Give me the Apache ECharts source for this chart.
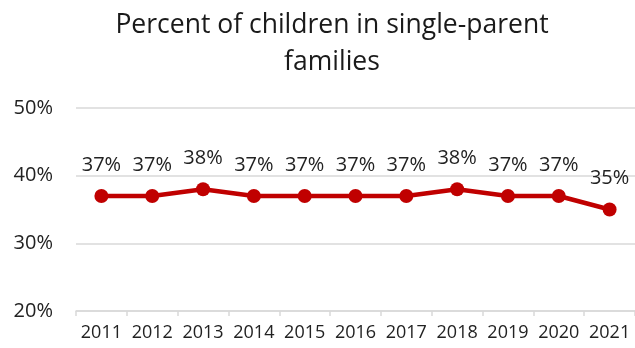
<!DOCTYPE html>
<html><head><meta charset="utf-8">
<script src="https://cdn.jsdelivr.net/npm/echarts@6/dist/echarts.min.js"></script>
<style>html,body{margin:0;padding:0;background:#fff}#c{width:635px;height:348px}</style>
</head><body><div id="c"></div>
<script>
const years = ['2011','2012','2013','2014','2015','2016','2017','2018','2019','2020','2021'];
const percent = [37,37,38,37,37,37,37,38,37,37,35];
const yTicks = [20,30,40,50];

const chart = echarts.init(document.getElementById('c'));
const font = '"Open Sans", "Noto Sans", sans-serif';
chart.setOption({
  animation: false,
  title: {
    text: 'Percent of children in single-parent\nfamilies',
    left: 327, top: 2, textAlign: 'center',
    textStyle: {fontFamily: font, fontSize: 26.5, fontWeight: 'normal', color: '#1a1a1a', lineHeight: 37}
  },
  grid: {left: 76, right: -2, top: 108, bottom: 37},
  xAxis: {
    type: 'category', data: years, boundaryGap: true,
    axisLine: {lineStyle: {color: '#d9d9d9', width: 1.5}},
    axisTick: {show: true, length: 5, interval: 0, lineStyle: {color: '#d9d9d9', width: 1.5}},
    axisLabel: {fontFamily: font, fontSize: 18, color: '#222', margin: 13, interval: 0}
  },
  yAxis: {
    type: 'value', min: yTicks[0], max: yTicks[yTicks.length-1], interval: 10,
    axisLine: {show: false}, axisTick: {show: false},
    splitLine: {lineStyle: {color: '#d9d9d9', width: 1.5}},
    axisLabel: {fontFamily: font, fontSize: 20, color: '#222', margin: 23, formatter: v => v + '%'}
  },
  series: [{
    type: 'line', data: percent,
    lineStyle: {color: '#C00000', width: 4.5},
    itemStyle: {color: '#C00000'},
    symbol: 'circle', symbolSize: 14,
    label: {show: true, position: 'top', distance: 14, formatter: p => p.value + '%',
      fontFamily: font, fontSize: 20, color: '#222'}
  }]
});
</script></body></html>
